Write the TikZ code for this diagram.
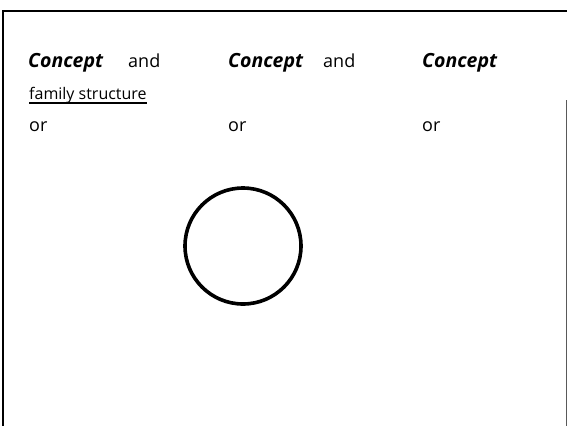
\documentclass[tikz,border=0pt]{standalone}
\usepackage{fontspec}
\setmainfont{Open Sans}
\begin{document}
\begin{tikzpicture}[x=1pt,y=-1pt,
  lbl/.style={anchor=base west,inner sep=0pt,font=\fontsize{18}{21}\selectfont},
  con/.style={anchor=base west,inner sep=0pt,font=\fontsize{19.5}{22}\selectfont\bfseries\itshape},
  small/.style={anchor=base west,inner sep=0pt,font=\fontsize{16}{19}\selectfont},
  frame/.style={line width=2.6pt}]
\useasboundingbox (0,0) rectangle (567,426);
\fill[white] (0,0) rectangle (567,426);
\coordinate (tl) at (3,11);
\coordinate (tr) at (567,11);
\coordinate (bl) at (3,426);
\coordinate (rt) at (566,100);
\coordinate (rb) at (566,426);
\draw[frame] (tr) -- (tl) -- (bl);
\draw[gray!70!black,line width=1pt] (rt) -- (rb);
\node[con] (c1) at (28,67) {Concept};
\node[lbl] (a1) at (128,67) {and};
\node[con] (c2) at (228,67) {Concept};
\node[lbl] (a2) at (323,67) {and};
\node[con] (c3) at (422,67) {Concept};
\node[small] (fs) at (29,99) {family structure};
\draw[line width=1.2pt] ([yshift=-4pt]fs.base west) -- ([yshift=-4pt]fs.base east);
\node[lbl] (o1) at (29,131) {or};
\node[lbl] (o2) at (228,131) {or};
\node[lbl] (o3) at (422,131) {or};
\node[circle,draw,line width=3.6pt,minimum size=116pt,inner sep=0pt] (circ) at (243,246) {};
\end{tikzpicture}
\end{document}
